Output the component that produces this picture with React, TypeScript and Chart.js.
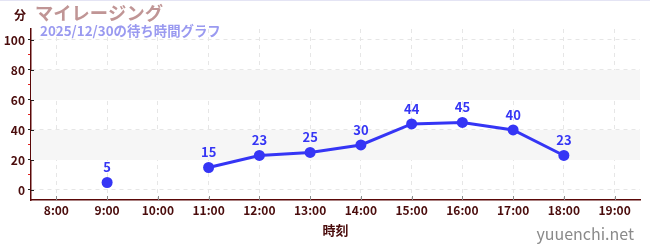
import React, { useEffect, useRef } from "react";
import { Chart, registerables } from "chart.js";

Chart.register(...registerables);

// Hourly wait-time series (minutes); null = no data that hour
const hours = [8, 9, 10, 11, 12, 13, 14, 15, 16, 17, 18, 19];
const waits: (number | null)[] = [null, 5, null, 15, 23, 25, 30, 44, 45, 40, 23, null];
const yTicks = [0, 10, 20, 30, 40, 50, 60, 70, 80, 90, 100];
const bands: [number, number][] = [[20, 40], [60, 80]];

const titleText = "マイレージング";
const subtitleText = "2025/12/30の待ち時間グラフ";
const unitText = "分";
const xTitleText = "時刻";
const siteText = "yuuenchi.net";

const FONT = "'Noto Sans CJK JP', 'Noto Sans', sans-serif";
const POINT = "#3535f5";
const AXIS_TEXT = "#4a0c0c";

const decorations = {
  id: "decorations",
  beforeDatasetsDraw(chart: any) {
    const { ctx, chartArea, scales } = chart;
    const y = scales.y;
    ctx.save();
    ctx.fillStyle = "#f6f6f6";
    for (const [a, b] of bands) {
      const top = y.getPixelForValue(b);
      const bot = y.getPixelForValue(a);
      ctx.fillRect(chartArea.left, top, chartArea.right - chartArea.left, bot - top);
    }
    ctx.restore();
  },
  afterDatasetsDraw(chart: any) {
    const { ctx, scales } = chart;
    ctx.save();
    ctx.font = `bold 13px ${FONT}`;
    ctx.fillStyle = POINT;
    ctx.textAlign = "center";
    ctx.textBaseline = "alphabetic";
    hours.forEach((h, i) => {
      const v = waits[i];
      if (v == null) return;
      ctx.fillText(String(v), scales.x.getPixelForValue(h), scales.y.getPixelForValue(v) - 10);
    });
    ctx.restore();
  },
  afterDraw(chart: any) {
    const { ctx, chartArea, scales } = chart;
    ctx.save();
    // inner tick marks on both axes
    ctx.lineWidth = 1;
    ctx.strokeStyle = "#8a8a8a";
    for (const h of hours) {
      const px = Math.round(scales.x.getPixelForValue(h)) + 0.5;
      ctx.beginPath();
      ctx.moveTo(px, chartArea.bottom - 4);
      ctx.lineTo(px, chartArea.bottom);
      ctx.stroke();
    }
    ctx.strokeStyle = "#222";
    for (const v of yTicks) {
      if (v % 20 !== 0) continue;
      const py = Math.round(scales.y.getPixelForValue(v)) + 0.5;
      ctx.beginPath();
      ctx.moveTo(chartArea.left, py);
      ctx.lineTo(chartArea.left + 3, py);
      ctx.stroke();
    }
    // top border
    ctx.fillStyle = "#e4e4f4";
    ctx.fillRect(0, 0, 650, 1);

    ctx.textBaseline = "alphabetic";
    ctx.textAlign = "left";
    ctx.fillStyle = AXIS_TEXT;
    ctx.font = `bold 12px ${FONT}`;
    ctx.fillText(unitText, 14, 20);
    ctx.fillStyle = "#c09595";
    ctx.font = `bold 18.3px ${FONT}`;
    ctx.fillText(titleText, 35, 20);
    ctx.fillStyle = "#9a9af0";
    ctx.font = `bold 13.4px ${FONT}`;
    ctx.fillText(subtitleText, 40, 36);
    ctx.fillStyle = AXIS_TEXT;
    ctx.font = `bold 13px ${FONT}`;
    ctx.textAlign = "center";
    ctx.fillText(xTitleText, (chartArea.left + chartArea.right) / 2, 235);
    ctx.fillStyle = "#8a8a8a";
    ctx.font = `16px ${FONT}`;
    ctx.textAlign = "right";
    ctx.fillText(siteText, 634, 240);
    ctx.restore();
  },
};

export default function App() {
  const ref = useRef<HTMLCanvasElement>(null);
  useEffect(() => {
    document.body.style.margin = "0";
    const chart = new Chart(ref.current!, {
      type: "line",
      data: {
        labels: hours,
        datasets: [
          {
            data: hours.map((h, i) => ({ x: h, y: waits[i] as any })),
            borderColor: POINT,
            backgroundColor: POINT,
            borderWidth: 3,
            pointRadius: 5.5,
            pointBorderWidth: 0,
            pointHoverRadius: 5.5,
            spanGaps: false,
            tension: 0,
          },
        ],
      },
      options: {
        animation: false,
        responsive: false,
        events: [],
        layout: { padding: { top: 29, right: 10, bottom: 0, left: 0 } },
        plugins: { legend: { display: false }, tooltip: { enabled: false }, title: { display: false } },
        scales: {
          x: {
            type: "linear",
            min: 7.5,
            max: 19.5,
            afterBuildTicks: (s: any) => {
              s.ticks = hours.map((h) => ({ value: h }));
            },
            afterFit: (s: any) => {
              s.height = 50;
            },
            ticks: {
              autoSkip: false,
              maxRotation: 0,
              padding: 3,
              color: AXIS_TEXT,
              font: { family: FONT, size: 12, weight: "bold" },
              callback: (v: any) => `${v}:00`,
            },
            grid: {
              color: "#e6e6e6",
              drawTicks: false,
            },
            border: { color: "#5a0808", width: 1.5, dash: [4, 4] as any },
          },
          y: {
            min: -6.67,
            max: 107.3,
            afterBuildTicks: (s: any) => {
              s.ticks = yTicks.map((v) => ({ value: v }));
            },
            afterFit: (s: any) => {
              s.width = 31;
            },
            ticks: {
              autoSkip: false,
              padding: 3,
              color: AXIS_TEXT,
              font: { family: FONT, size: 12, weight: "bold" },
              callback: (v: any) => (v % 20 === 0 ? String(v) : ""),
            },
            grid: {
              color: (c: any) => (c.tick && c.tick.value % 20 === 0 ? "#e6e6e6" : "transparent"),
              tickColor: (c: any) => (c.tick && c.tick.value % 20 === 0 ? "#222" : "#e02020"),
              tickLength: 3,
            },
            border: { color: "#5a0808", width: 1.5, dash: [4, 4] as any },
          },
        },
      } as any,
      plugins: [decorations],
    });
    return () => chart.destroy();
  }, []);
  return <canvas ref={ref} width={650} height={250} style={{ display: "block" }} />;
}
